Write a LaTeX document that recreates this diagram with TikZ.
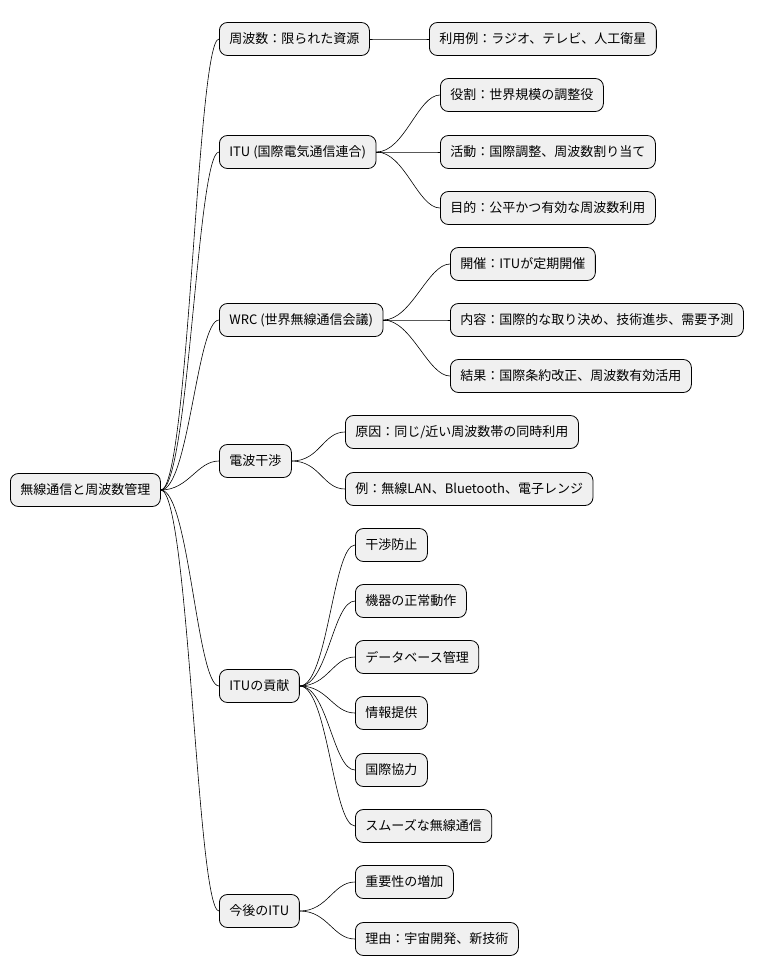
\documentclass[tikz,border=0pt]{standalone}
\usepackage{fontspec}
\setmainfont{Noto Sans CJK JP}
\begin{document}
\begin{tikzpicture}[x=1pt,y=-1pt,
  box/.style={draw=black,fill=black!6,rounded corners=8pt,minimum height=33pt,inner xsep=10pt,anchor=west,font=\fontsize{13}{15}\selectfont,line width=0.8pt},
  link/.style={line width=0.6pt}]
\useasboundingbox[fill=white] (0,0) rectangle (775,978);
\node[box] (r) at (10,490) {無線通信と周波数管理};
\node[box] (a) at (219,39) {周波数：限られた資源};
\node[box] (b) at (219,152) {ITU (国際電気通信連合)};
\node[box] (c) at (219,320) {WRC (世界無線通信会議)};
\node[box] (d) at (219,461) {電波干渉};
\node[box] (e) at (219,686) {ITUの貢献};
\node[box] (f) at (219,911) {今後のITU};
\node[box] (a1) at (429,39) {利用例：ラジオ、テレビ、人工衛星};
\node[box] (b1) at (440,95) {役割：世界規模の調整役};
\node[box] (b2) at (440,152) {活動：国際調整、周波数割り当て};
\node[box] (b3) at (440,208) {目的：公平かつ有効な周波数利用};
\node[box] (c1) at (450,264) {開催：ITUが定期開催};
\node[box] (c2) at (450,320) {内容：国際的な取り決め、技術進歩、需要予測};
\node[box] (c3) at (450,376) {結果：国際条約改正、周波数有効活用};
\node[box] (d1) at (345,432) {原因：同じ/近い周波数帯の同時利用};
\node[box] (d2) at (345,489) {例：無線LAN、Bluetooth、電子レンジ};
\node[box] (e1) at (355,545) {干渉防止};
\node[box] (e2) at (355,601) {機器の正常動作};
\node[box] (e3) at (355,657) {データベース管理};
\node[box] (e4) at (355,713) {情報提供};
\node[box] (e5) at (355,770) {国際協力};
\node[box] (e6) at (355,826) {スムーズな無線通信};
\node[box] (f1) at (355,882) {重要性の増加};
\node[box] (f2) at (355,939) {理由：宇宙開発、新技術};
\foreach \p/\c in {r/a,r/b,r/c,r/d,r/e,r/f,a/a1,b/b1,b/b2,b/b3,c/c1,c/c2,c/c3,d/d1,d/d2,e/e1,e/e2,e/e3,e/e4,e/e5,e/e6,f/f1,f/f2}
  \draw[link] (\p.east) .. controls +(28,0) and +(-22,0) .. (\c.west);
\end{tikzpicture}
\end{document}
